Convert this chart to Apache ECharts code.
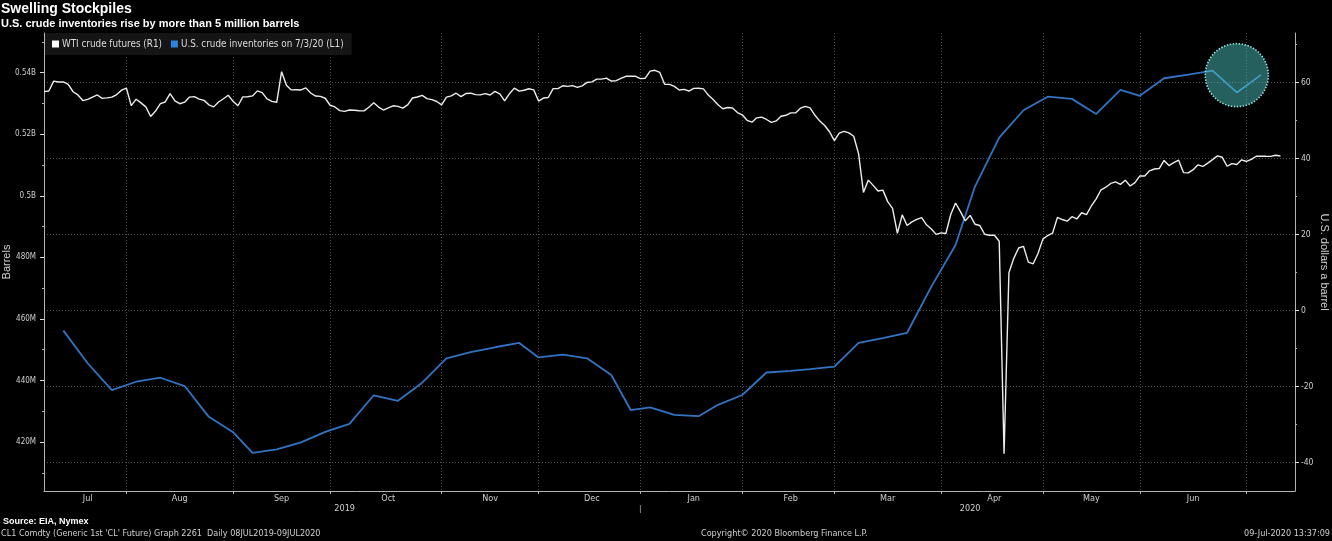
<!DOCTYPE html>
<html>
<head>
<meta charset="utf-8">
<title>Swelling Stockpiles</title>
<script src="https://cdn.jsdelivr.net/npm/echarts@6/dist/echarts.min.js"></script>
<style>
    html, body { margin: 0; padding: 0; background: #000; }
    #chart { width: 1332px; height: 541px; }
</style>
</head>
<body>
<div id="chart"></div>
<script>
(function() {
    // trading sessions: weekdays, NYMEX holidays dropped; axis runs a few sessions past the last print
    const firstDay = '2019-07-08';
    const lastDay = '2020-07-14';
    const holidays = ['2019-09-02', '2019-11-28', '2019-12-25', '2020-01-01', '2020-01-20', '2020-02-17', '2020-04-10', '2020-05-25'];
    const monthNames = ['Jan', 'Feb', 'Mar', 'Apr', 'May', 'Jun', 'Jul', 'Aug', 'Sep', 'Oct', 'Nov', 'Dec'];

    // WTI crude futures, USD a barrel (R1), one value per session
    const wtiJul19 = [57.66, 57.83, 60.43, 60.20, 60.21, 59.58, 57.62, 56.78, 55.30, 55.63, 56.22, 56.77, 55.88, 56.02, 56.20, 56.87, 58.05, 58.58];
    const wtiAug19 = [53.95, 55.66, 54.69, 53.63, 51.09, 52.54, 54.50, 54.93, 57.10, 55.23, 54.47, 54.87, 56.21, 56.34, 55.68, 55.35, 54.17, 53.64, 54.93, 55.78, 56.71, 55.10];
    const wtiSep19 = [53.94, 56.26, 56.30, 56.52, 57.85, 57.40, 55.75, 55.09, 54.85, 62.90, 59.34, 58.11, 58.13, 58.09, 58.64, 57.29, 56.49, 56.41, 55.91, 54.07];
    const wtiOct19 = [53.62, 52.64, 52.45, 52.81, 52.75, 52.63, 52.59, 53.55, 54.70, 53.59, 52.81, 53.36, 53.93, 53.78, 53.31, 54.16, 55.97, 56.23, 56.66, 55.81, 55.54, 55.06, 54.18];
    const wtiNov19 = [56.20, 56.54, 57.23, 56.35, 57.15, 57.24, 56.86, 56.80, 57.12, 56.77, 57.72, 57.05, 55.21, 57.11, 58.58, 57.77, 58.01, 58.41, 58.11, 55.17];
    const wtiDec19 = [55.96, 56.10, 58.43, 58.43, 59.20, 59.02, 59.24, 58.76, 59.18, 60.07, 60.21, 60.94, 60.93, 61.22, 60.44, 60.52, 61.11, 61.68, 61.72, 61.68, 61.06];
    const wtiJan20 = [61.18, 63.05, 63.27, 62.70, 59.61, 59.56, 59.04, 58.08, 58.23, 57.81, 58.52, 58.54, 58.38, 56.74, 55.59, 54.19, 53.14, 53.48, 53.33, 52.14, 51.56];
    const wtiFeb20 = [50.11, 49.61, 50.75, 50.95, 50.32, 49.57, 49.94, 51.17, 51.42, 52.05, 52.05, 53.29, 53.78, 53.38, 51.43, 49.90, 48.73, 47.09, 44.76];
    const wtiMar20 = [46.75, 47.18, 46.78, 45.90, 41.28, 31.13, 34.36, 32.98, 31.50, 31.73, 28.70, 26.95, 20.37, 25.22, 22.43, 23.36, 24.01, 24.49, 22.60, 21.51, 20.09, 20.48];
    const wtiApr20 = [20.31, 25.32, 28.34, 26.08, 23.63, 25.09, 22.76, 22.41, 20.11, 19.87, 19.87, 18.27, -37.63, 10.01, 13.78, 16.50, 16.94, 12.78, 12.34, 15.06, 18.84];
    const wtiMay20 = [19.78, 20.39, 24.56, 23.99, 23.55, 24.74, 24.14, 25.78, 25.29, 27.56, 29.43, 31.82, 32.50, 33.49, 33.92, 33.25, 34.35, 32.81, 33.71, 35.49];
    const wtiJun20 = [35.44, 36.81, 37.29, 37.41, 39.55, 38.19, 38.94, 39.60, 36.34, 36.26, 37.12, 38.38, 37.96, 38.84, 39.75, 40.73, 40.37, 38.01, 38.72, 38.49, 39.70, 39.27];
    const wtiJul20 = [39.82, 40.65, 40.65, 40.63, 40.62, 40.90, 40.70];

    // U.S. crude inventories, million barrels (L1), weekly
    const invDates = ['2019-07-12', '2019-07-19', '2019-07-26', '2019-08-02', '2019-08-09', '2019-08-16', '2019-08-23', '2019-08-30',
        '2019-09-06', '2019-09-13', '2019-09-20', '2019-09-27', '2019-10-04', '2019-10-11', '2019-10-18', '2019-10-25',
        '2019-11-01', '2019-11-08', '2019-11-15', '2019-11-22', '2019-11-29', '2019-12-06', '2019-12-13', '2019-12-20', '2019-12-27',
        '2020-01-03', '2020-01-10', '2020-01-17', '2020-01-24', '2020-01-31', '2020-02-07', '2020-02-14', '2020-02-21', '2020-02-28',
        '2020-03-06', '2020-03-13', '2020-03-20', '2020-03-27', '2020-04-03', '2020-04-09', '2020-04-17', '2020-04-24',
        '2020-05-01', '2020-05-08', '2020-05-15', '2020-05-22', '2020-05-29', '2020-06-05', '2020-06-12', '2020-06-19', '2020-06-26', '2020-07-03'];
    const invValues = [456.2, 445.6, 436.9, 439.6, 440.9, 438.2, 428.2, 423.2,
        416.5, 417.6, 419.9, 423.3, 425.9, 435.2, 433.4, 439.3,
        447.2, 449.2, 450.8, 452.2, 447.5, 448.4, 447.2, 441.8, 430.4,
        431.3, 428.8, 428.4, 432.1, 435.3, 442.6, 443.1, 443.7, 444.5,
        452.2, 453.8, 455.5, 470.5, 484.0, 503.0, 518.9, 527.8,
        532.2, 531.5, 526.6, 534.4, 532.5, 538.2, 539.4, 540.7, 533.6, 539.3];

    // highlighted last readings
    const circleAt = ['2020-06-26', 539.2];

    const leftMin = 404.1, leftMax = 552.9;
    const rightMin = -47.45, rightMax = 73.08;
    const leftTicks = [420, 440, 460, 480, 500, 520, 540];
    const leftMinorTicks = [410, 430, 450, 470, 490, 510, 530, 550];
    const rightTicks = [-40, -20, 0, 20, 40, 60];
    const rightMinorTicks = [-30, -10, 10, 30, 50, 70];

    function tradingDays(from, to, skip) {
        const out = [];
        const d = new Date(from + 'T00:00:00Z');
        const end = new Date(to + 'T00:00:00Z');
        while (d <= end) {
            const wd = d.getUTCDay();
            const s = d.toISOString().slice(0, 10);
            if (wd !== 0 && wd !== 6 && !skip.includes(s)) out.push(s);
            d.setUTCDate(d.getUTCDate() + 1);
        }
        return out;
    }

    const dates = tradingDays(firstDay, lastDay, holidays);
    const wti = [].concat(wtiJul19, wtiAug19, wtiSep19, wtiOct19, wtiNov19, wtiDec19,
        wtiJan20, wtiFeb20, wtiMar20, wtiApr20, wtiMay20, wtiJun20, wtiJul20);

    // period ends (ticks + grid) sit on the last session of a month;
    // labels go half way between two period ends
    function periodMarks(keyLen, minLen) {
        const ends = [];
        const labels = new Set();
        let first = 0;
        for (let i = 1; i <= dates.length; i++) {
            if (i === dates.length || dates[i].slice(0, keyLen) !== dates[first].slice(0, keyLen)) {
                const last = i - 1;
                if (i < dates.length) ends.push(last);
                if (i - first >= minLen) labels.add(Math.round(((first > 0 ? first - 1 : 0) + last) / 2));
                first = i;
            }
        }
        return { ends: new Set(ends), labels: labels };
    }
    const months = periodMarks(7, 15);
    const years = periodMarks(4, 1);

    const narrow = '"Liberation Sans Narrow", "DejaVu Sans Condensed", "Liberation Sans", sans-serif';
    const plain = '"Liberation Sans", Arial, sans-serif';
    const gridLine = { color: '#4d4d4d', width: 1, type: [1, 2] };
    const axisCol = '#b4b4b4';

    const chart = echarts.init(document.getElementById('chart'));

    let option = {
        backgroundColor: '#000',
        animation: false,
        textStyle: { fontFamily: narrow },
        title: [
            { text: 'Swelling Stockpiles', left: 1, top: 2, padding: 0,
              textStyle: { color: '#fff', fontSize: 14, fontWeight: 'bold', fontFamily: plain } },
            { text: 'U.S. crude inventories rise by more than 5 million barrels', left: 1, top: 18, padding: 0,
              textStyle: { color: '#fff', fontSize: 11, fontWeight: 'bold', fontFamily: plain } },
            { text: 'Source: EIA, Nymex', left: 3, top: 517, padding: 0,
              textStyle: { color: '#fff', fontSize: 9, fontWeight: 'bold', fontFamily: plain } },
            { text: "CL1 Comdty (Generic 1st 'CL' Future) Graph 2261  Daily 08JUL2019-09JUL2020", left: 1, top: 529, padding: 0,
              textStyle: { color: '#d0d0d0', fontSize: 9, fontWeight: 'normal' } },
            { text: 'Copyright\u00a9 2020 Bloomberg Finance L.P.', left: 701, top: 529, padding: 0,
              textStyle: { color: '#d0d0d0', fontSize: 9, fontWeight: 'normal' } },
            { text: '09-Jul-2020 13:37:09', right: 2, top: 529, padding: 0,
              textStyle: { color: '#d0d0d0', fontSize: 9, fontWeight: 'normal' } }
        ],
        legend: {
            data: ['WTI crude futures (R1)', 'U.S. crude inventories on 7/3/20 (L1)'],
            left: 45, top: 33,
            padding: [6, 8, 6, 7],
            itemGap: 9, itemWidth: 7, itemHeight: 7,
            icon: 'rect',
            backgroundColor: '#151515',
            textStyle: { color: '#dcdcdc', fontSize: 9.8, padding: [0, 0, 0, -2] }
        },
        grid: { left: 44, right: 37, top: 33, bottom: 50, outerBoundsMode: 'none', containLabel: false },
        xAxis: [{
            type: 'category',
            data: dates,
            boundaryGap: false,
            axisLine: { show: true, onZero: false, lineStyle: { color: axisCol, width: 1 } },
            axisTick: { show: true, interval: (i) => months.ends.has(i), length: 3, lineStyle: { color: axisCol } },
            axisLabel: { interval: (i) => months.labels.has(i), formatter: (v) => monthNames[+v.slice(5, 7) - 1],
                         color: '#cfcfcf', fontSize: 9, margin: 3 },
            splitLine: { show: true, interval: (i) => months.ends.has(i), lineStyle: gridLine }
        }, {
            type: 'category',
            data: dates,
            boundaryGap: false,
            position: 'bottom',
            offset: 13,
            axisLine: { show: false, onZero: false },
            axisTick: { show: false },
            axisLabel: { interval: (i) => years.labels.has(i), formatter: (v) => v.slice(0, 4),
                         color: '#cfcfcf', fontSize: 9, margin: 0 },
            splitLine: { show: false }
        }],
        yAxis: [{
            type: 'value', position: 'left', min: leftMin, max: leftMax,
            name: 'Barrels', nameLocation: 'middle', nameGap: 32, nameRotate: 90, nameMoveOverlap: false,
            nameTextStyle: { color: '#cfcfcf', fontSize: 11, fontFamily: plain },
            axisLine: { show: true, onZero: false, lineStyle: { color: axisCol, width: 1 } },
            axisTick: { show: true, customValues: leftTicks, length: 4, lineStyle: { color: '#e0e0e0' } },
            axisLabel: { customValues: leftTicks, color: '#cfcfcf', fontSize: 8, margin: 8,
                         formatter: (v) => v >= 500 ? (v / 1000) + 'B' : v + 'M' },
            splitLine: { show: false }
        }, {
            type: 'value', position: 'right', min: rightMin, max: rightMax,
            name: 'U.S. dollars a barrel', nameLocation: 'middle', nameGap: 24, nameRotate: -90, nameMoveOverlap: false,
            nameTextStyle: { color: '#cfcfcf', fontSize: 11, fontFamily: plain },
            axisLine: { show: true, onZero: false, lineStyle: { color: axisCol, width: 1 } },
            axisTick: { show: true, customValues: rightTicks, length: 4, lineStyle: { color: '#e0e0e0' } },
            axisLabel: { customValues: rightTicks, color: '#cfcfcf', fontSize: 8.5, margin: 6 },
            splitLine: { show: true, lineStyle: gridLine }
        }, {
            type: 'value', position: 'left', min: leftMin, max: leftMax,
            axisLine: { show: false },
            axisTick: { show: true, customValues: leftMinorTicks, length: 2, lineStyle: { color: axisCol } },
            axisLabel: { show: false },
            splitLine: { show: false }
        }, {
            type: 'value', position: 'right', min: rightMin, max: rightMax,
            axisLine: { show: false },
            axisTick: { show: true, customValues: rightMinorTicks, length: 2, lineStyle: { color: axisCol } },
            axisLabel: { show: false },
            splitLine: { show: false }
        }],
        series: [{
            name: 'U.S. crude inventories on 7/3/20 (L1)',
            type: 'line',
            xAxisIndex: 0,
            yAxisIndex: 0,
            data: invDates.map((d, i) => [d, invValues[i]]),
            symbol: 'none',
            lineStyle: { color: '#3074c2', width: 1.8 },
            itemStyle: { color: '#2b84de' },
            markPoint: {
                silent: true,
                symbol: 'circle',
                symbolSize: 63,
                label: { show: false },
                itemStyle: { color: 'rgba(80, 200, 196, 0.48)', borderColor: '#8fe4e2', borderWidth: 1.6, borderType: [1.5, 1.5] },
                data: [{ coord: circleAt }]
            },
            z: 2
        }, {
            name: 'WTI crude futures (R1)',
            type: 'line',
            xAxisIndex: 0,
            yAxisIndex: 1,
            data: wti,
            symbol: 'none',
            lineStyle: { color: '#ededed', width: 1.4 },
            itemStyle: { color: '#ffffff' },
            z: 3
        }]
    };

    chart.setOption(option);

    // 2019 | 2020 divider under the month row, at the last 2019 session
    const last2019 = [...years.ends][0];
    const sepX = chart.convertToPixel({ xAxisIndex: 0 }, dates[last2019]);
    const baseY = chart.convertToPixel({ yAxisIndex: 0 }, leftMin);
    chart.setOption({
        graphic: [{
            type: 'line',
            silent: true,
            shape: { x1: sepX, y1: baseY + 14, x2: sepX, y2: baseY + 22 },
            style: { stroke: '#808080', lineWidth: 1 }
        }]
    });
})();
</script>
</body>
</html>
